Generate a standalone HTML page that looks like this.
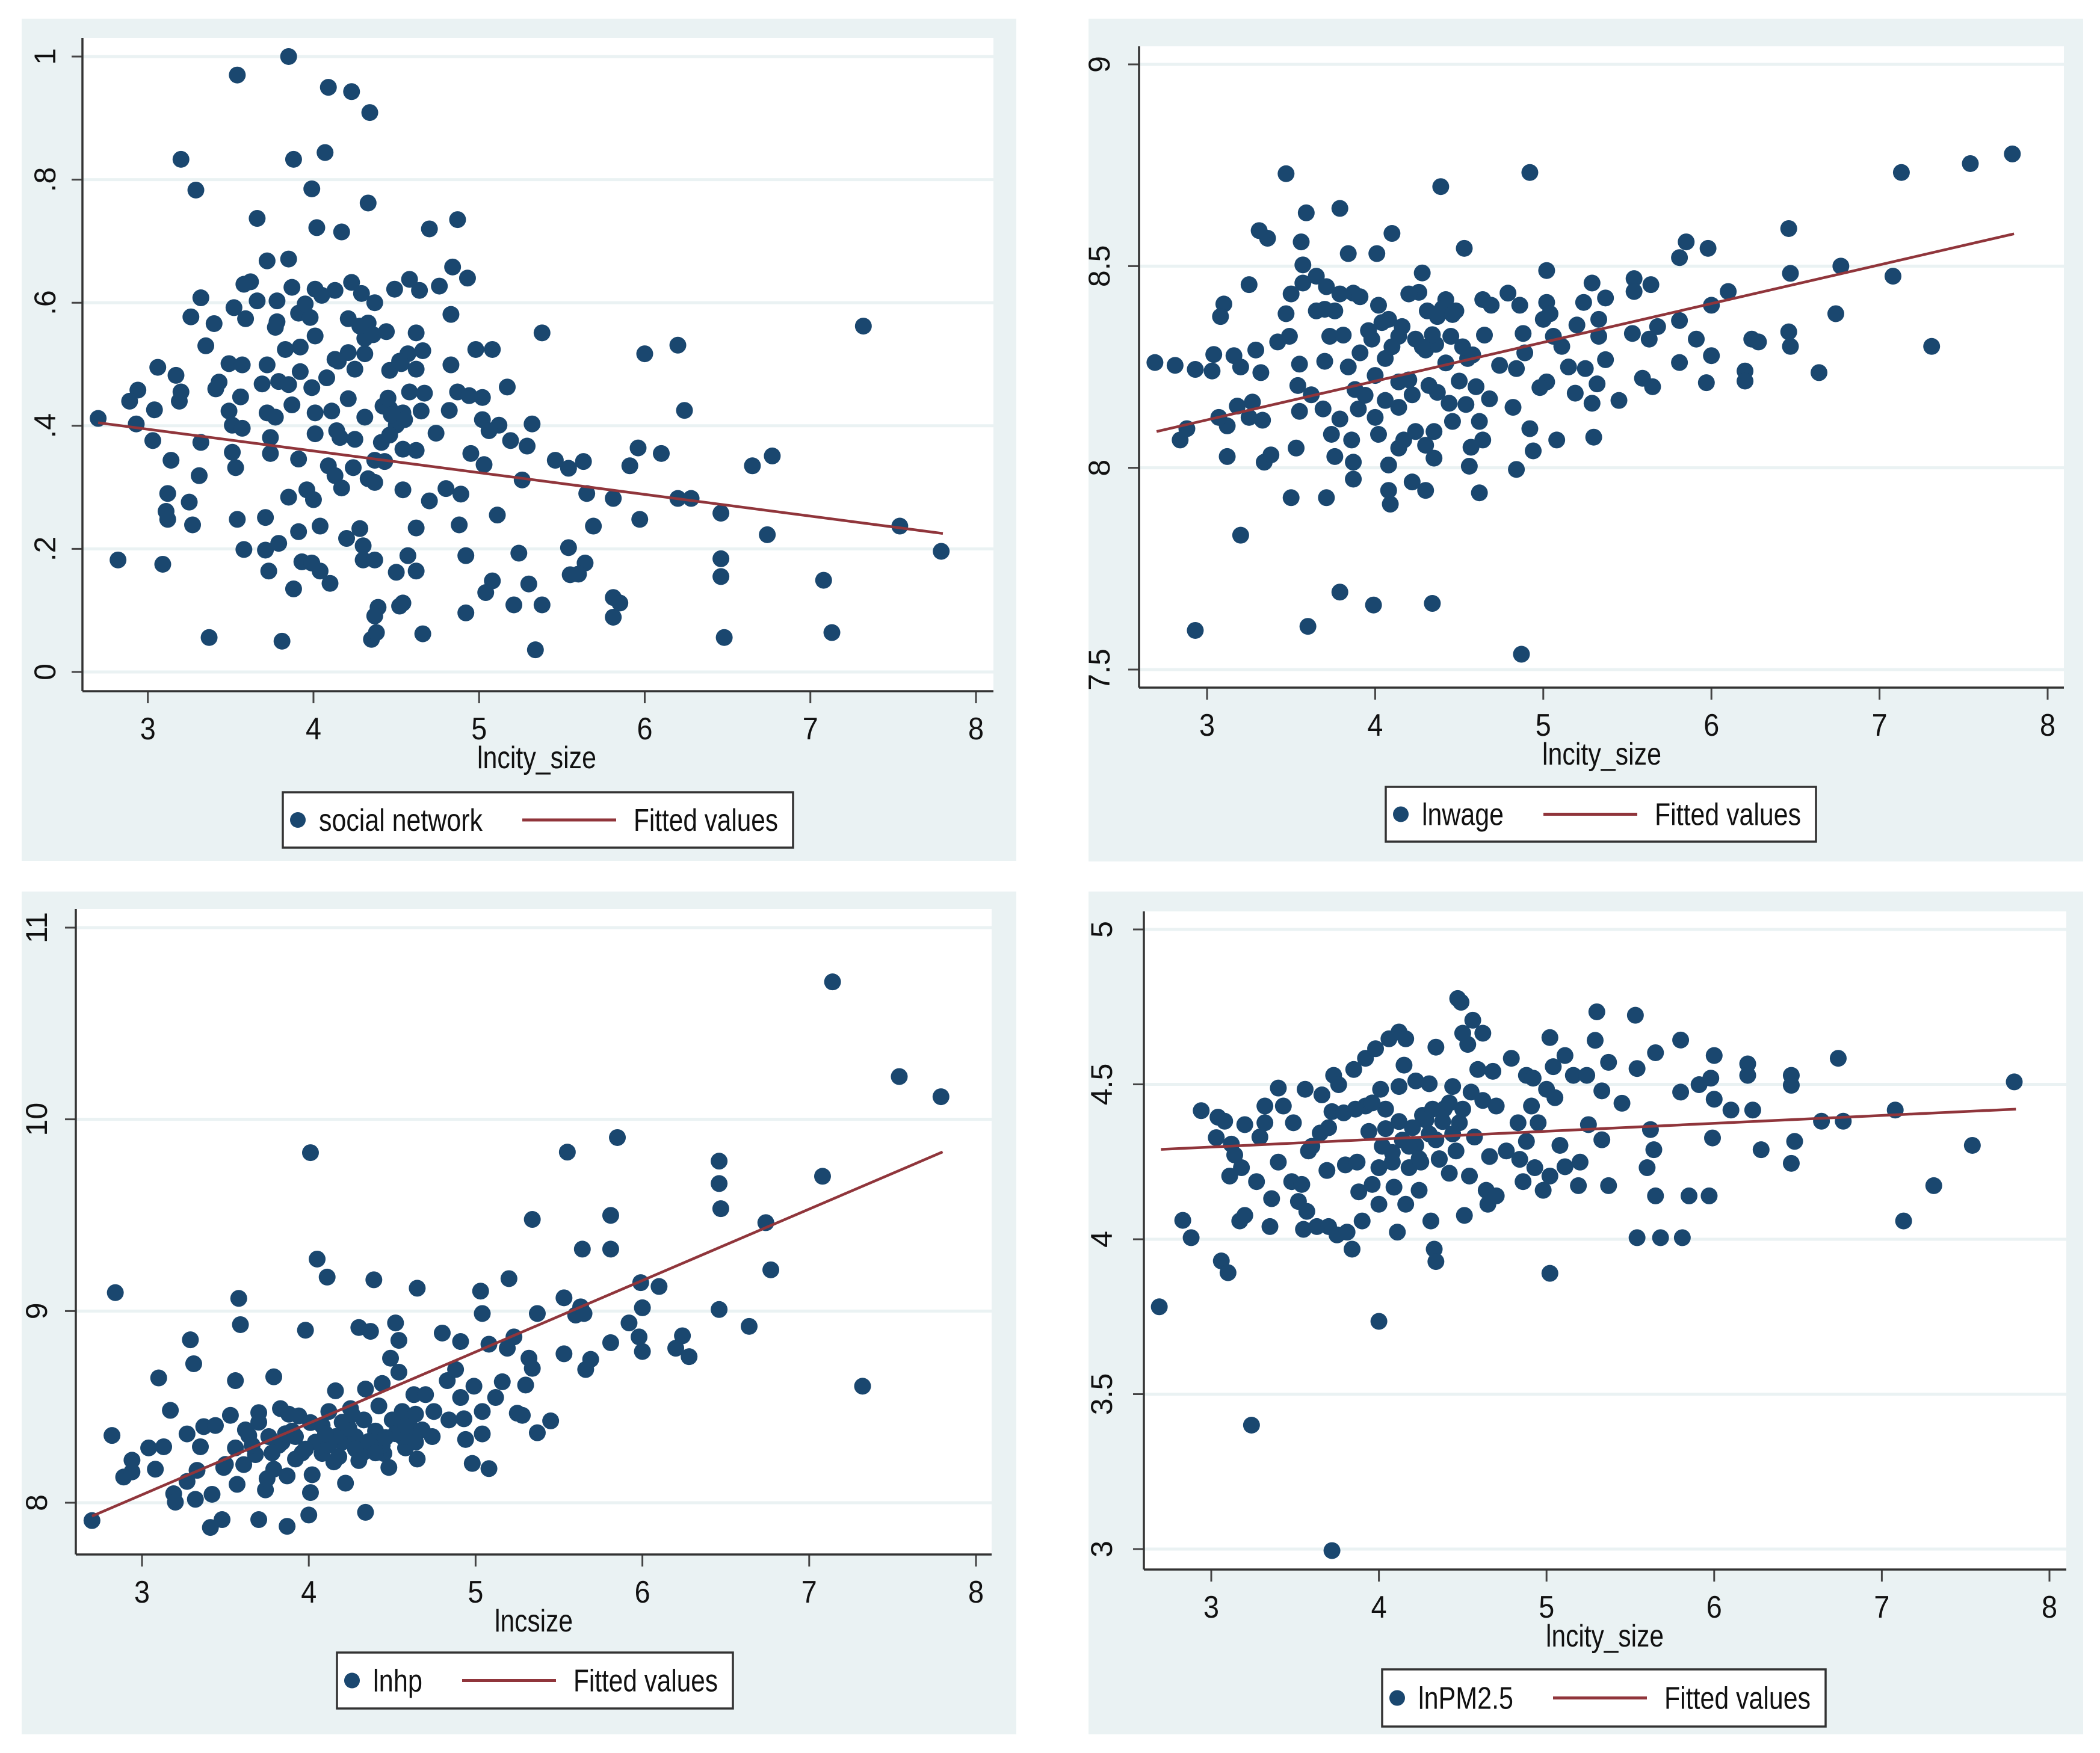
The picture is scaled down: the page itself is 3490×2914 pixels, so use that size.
<!DOCTYPE html>
<html><head><meta charset="utf-8">
<style>
html,body{margin:0;padding:0;background:#fff;}
svg{display:block;}
text{font-family:"Liberation Sans",Arial,sans-serif;fill:#111;}
</style></head>
<body>
<svg id="root" xmlns="http://www.w3.org/2000/svg" width="3490" height="2914" viewBox="0 0 3490 2914"></svg>
<script>
// ===== Panel 1: social network vs lncity_size =====
const p1x = [2.70,3.85,3.54,4.09,4.23,4.34,3.20,3.88,4.07,3.29,3.99,4.33,3.66,4.87,4.02,4.17,4.70,3.72,3.85,4.84,4.93,4.58,3.62,3.58,3.32,4.23,4.49,4.64,4.76,3.87,4.01,4.13,4.29,4.37,3.78,3.66,3.52,3.26,3.40,3.59,3.78,3.91,3.98,4.21,4.33,4.83,5.38,4.44,4.62,4.01,4.31,3.77,3.35,3.83,3.92,4.21,4.31,4.13,4.57,4.66,4.98,5.08,6.00,6.20,7.32,3.06,3.17,3.49,3.57,3.72,3.92,4.25,4.46,4.53,4.62,4.83,2.94,2.89,3.20,3.19,3.43,3.41,3.69,3.79,3.85,3.99,4.08,4.58,4.67,4.87,4.94,5.02,5.17,3.56,3.87,4.21,3.04,2.93,3.49,3.51,3.57,3.72,3.77,4.01,4.11,4.31,4.46,4.54,4.65,4.82,5.02,5.12,5.32,6.24,4.50,4.01,4.14,5.06,4.74,3.03,3.32,3.74,4.16,4.25,4.41,4.46,5.19,5.29,3.74,3.14,3.51,3.91,4.37,4.43,4.54,4.62,4.95,5.46,5.63,5.96,6.10,6.77,3.53,4.09,4.24,5.03,5.54,5.91,6.65,3.31,4.13,4.33,4.37,5.26,4.17,4.54,4.80,3.96,4.89,5.65,3.12,3.25,3.85,4.00,4.70,5.81,6.20,6.28,3.11,3.12,3.54,3.71,5.11,6.46,3.27,4.04,4.28,4.62,4.88,5.69,5.97,7.54,3.91,6.74,4.20,3.58,3.71,3.79,4.30,5.54,7.79,4.57,4.92,5.24,6.46,2.82,3.93,3.99,4.30,4.37,5.64,3.09,3.73,4.04,4.50,4.62,5.55,5.60,6.46,7.08,4.10,5.08,5.30,3.88,5.04,5.81,5.85,5.21,5.38,4.54,4.52,4.39,4.37,4.92,5.81,4.66,7.13,6.48,3.37,3.81,4.35,4.38,5.34,4.42,4.47,4.28,4.36,4.52,3.95,4.05,4.15,4.45,4.55];
const p1y = [0.412,1.0,0.97,0.95,0.943,0.909,0.833,0.833,0.844,0.783,0.785,0.762,0.737,0.735,0.722,0.715,0.720,0.668,0.671,0.658,0.640,0.638,0.634,0.63,0.608,0.633,0.622,0.620,0.627,0.625,0.622,0.620,0.615,0.60,0.603,0.603,0.592,0.577,0.566,0.574,0.569,0.583,0.576,0.574,0.567,0.581,0.551,0.553,0.551,0.546,0.542,0.560,0.530,0.524,0.528,0.519,0.517,0.508,0.517,0.522,0.524,0.524,0.517,0.531,0.562,0.495,0.482,0.501,0.499,0.499,0.488,0.492,0.490,0.501,0.492,0.499,0.458,0.440,0.455,0.440,0.471,0.460,0.468,0.472,0.467,0.462,0.478,0.455,0.453,0.455,0.449,0.446,0.463,0.447,0.434,0.444,0.426,0.403,0.424,0.401,0.396,0.421,0.414,0.421,0.424,0.414,0.428,0.421,0.424,0.425,0.410,0.401,0.403,0.425,0.401,0.387,0.392,0.392,0.388,0.376,0.373,0.381,0.381,0.378,0.373,0.385,0.376,0.367,0.355,0.344,0.357,0.346,0.344,0.342,0.362,0.360,0.355,0.344,0.342,0.364,0.355,0.351,0.332,0.335,0.332,0.337,0.331,0.335,0.335,0.319,0.319,0.314,0.308,0.312,0.299,0.296,0.298,0.296,0.289,0.290,0.290,0.276,0.284,0.280,0.278,0.282,0.282,0.282,0.261,0.248,0.248,0.251,0.255,0.258,0.239,0.237,0.233,0.234,0.239,0.237,0.248,0.237,0.228,0.223,0.217,0.199,0.198,0.209,0.205,0.202,0.196,0.189,0.189,0.193,0.184,0.182,0.179,0.177,0.182,0.182,0.177,0.175,0.164,0.164,0.162,0.164,0.158,0.159,0.155,0.149,0.144,0.148,0.143,0.135,0.129,0.121,0.112,0.109,0.109,0.112,0.107,0.105,0.091,0.096,0.089,0.062,0.064,0.056,0.056,0.050,0.053,0.064,0.036,0.432,0.418,0.562,0.548,0.505,0.598,0.612,0.505,0.445,0.410];
const p1fit = [[2.7,0.405],[7.8,0.225]];
const p1xticks = [3,4,5,6,7,8];
const p1yticks = [0,0.2,0.4,0.6,0.8,1];
const p1ylabels = ["0",".2",".4",".6",".8","1"];

// ===== Panel 2: lnwage =====
const p2x = [2.69,2.81,2.93,3.03,3.04,3.10,3.08,3.16,3.20,3.25,3.29,3.31,3.36,3.47,3.59,3.56,3.57,3.79,3.84,4.01,4.10,4.39,4.53,4.28,4.92,5.02,5.29,5.54,5.64,5.81,5.85,5.98,6.10,6.00,6.46,6.47,6.77,7.08,7.13,7.54,7.79,6.74,7.31,6.64,6.46,6.47,6.24,6.28,6.20,6.20,5.97,6.00,5.91,5.81,5.81,5.68,5.63,5.53,5.54,5.59,5.65,5.45,5.37,5.33,5.33,5.37,5.32,5.29,5.30,5.25,5.20,5.24,5.15,5.19,5.11,5.06,5.02,5.04,5.00,5.02,4.98,5.08,4.94,4.92,4.88,4.89,4.84,4.86,4.79,4.84,4.82,4.69,4.64,4.65,4.74,4.68,4.62,4.64,4.57,4.56,4.62,4.54,4.60,4.50,4.55,4.45,4.48,4.42,4.37,4.31,4.26,4.20,4.36,4.24,4.30,4.42,4.37,4.32,4.44,4.46,4.35,4.30,4.35,4.30,4.22,4.24,4.17,4.14,4.08,4.08,4.09,4.22,4.20,4.14,4.06,4.00,4.06,4.00,4.02,4.14,4.14,4.08,4.02,3.96,3.98,3.91,3.84,3.88,3.90,3.86,3.87,3.87,3.79,3.74,3.76,3.69,3.62,3.55,3.55,3.54,3.70,3.73,3.81,3.76,3.70,3.65,3.71,3.79,3.87,3.91,3.65,3.57,3.50,3.47,3.49,3.42,3.53,3.50,3.71,3.34,3.38,3.20,3.12,3.12,3.07,3.18,3.25,3.27,3.33,3.32,2.84,2.88,2.93,3.60,3.79,3.99,4.34,4.87,4.40,4.46,4.52,4.58,4.34,4.28,4.16,4.10,4.04,3.94];
const p2y = [8.261,8.254,8.244,8.240,8.281,8.406,8.375,8.278,8.250,8.454,8.292,8.588,8.569,8.729,8.632,8.560,8.503,8.643,8.531,8.531,8.581,8.697,8.544,8.483,8.732,8.489,8.458,8.469,8.454,8.521,8.560,8.544,8.437,8.403,8.593,8.482,8.500,8.475,8.732,8.754,8.778,8.382,8.301,8.236,8.337,8.301,8.319,8.312,8.240,8.215,8.211,8.278,8.319,8.365,8.261,8.350,8.319,8.333,8.437,8.222,8.201,8.167,8.421,8.368,8.326,8.268,8.208,8.160,8.076,8.246,8.354,8.410,8.250,8.185,8.301,8.326,8.410,8.382,8.368,8.213,8.199,8.069,8.042,8.097,8.333,8.285,8.246,8.403,8.433,7.996,8.150,8.403,8.417,8.329,8.254,8.171,8.115,8.069,8.051,8.004,7.938,8.157,8.201,8.215,8.271,8.326,8.389,8.417,8.375,8.389,8.435,8.431,8.306,8.319,8.292,8.260,8.187,8.204,8.160,8.115,8.090,8.056,8.024,7.944,7.965,8.090,8.069,8.049,8.007,7.944,7.910,8.181,8.218,8.213,8.271,8.229,8.167,8.125,8.083,8.150,8.326,8.368,8.403,8.340,8.319,8.285,8.250,8.194,8.146,8.069,8.014,7.972,8.121,8.083,8.028,8.146,8.181,8.140,8.257,8.204,8.264,8.326,8.329,8.389,8.393,8.389,8.449,8.431,8.433,8.424,8.475,8.458,8.431,8.382,8.326,8.312,8.049,7.926,7.926,8.014,8.032,7.833,8.028,8.104,8.125,8.153,8.125,8.163,8.118,8.236,8.069,8.097,7.597,7.607,7.692,7.660,7.664,7.538,8.395,8.380,8.300,8.280,8.330,8.300,8.350,8.300,8.360,8.180];
const p2fit = [[2.7,8.09],[7.8,8.58]];
const p2xticks = [3,4,5,6,7,8];
const p2yticks = [7.5,8,8.5,9];
const p2ylabels = ["7.5","8","8.5","9"];

// ===== Panel 3: lnhp vs lncsize =====
const p3x = [2.70,2.82,2.84,2.89,2.94,2.94,3.04,3.08,3.13,3.10,3.17,3.19,3.20,3.27,3.27,3.29,3.31,3.32,3.35,3.37,3.33,3.41,3.42,3.48,3.44,3.49,3.53,3.56,3.58,3.59,3.57,3.61,3.64,3.68,3.70,3.70,3.74,3.75,3.79,3.79,3.83,3.84,3.87,3.87,3.90,3.94,3.92,3.98,4.00,4.01,4.01,4.02,4.01,4.05,4.08,4.11,4.12,4.16,4.15,4.20,4.22,4.25,4.28,4.30,4.34,4.37,4.34,4.33,4.36,4.39,4.42,4.44,4.45,4.48,4.49,4.52,4.54,4.54,4.56,4.58,4.61,4.63,4.65,4.65,4.70,4.74,4.75,4.80,4.83,4.84,4.88,4.91,4.91,4.94,4.93,4.98,4.99,5.03,5.04,5.04,5.04,5.08,5.08,5.12,5.16,5.19,5.20,5.23,5.25,5.28,5.30,5.32,5.34,5.34,5.37,5.37,5.45,5.53,5.53,5.55,5.60,5.63,5.64,5.66,5.69,5.65,5.81,5.81,5.81,5.85,5.92,5.98,5.99,6.00,6.00,6.10,6.20,6.24,6.28,6.46,6.46,6.47,6.46,6.64,6.74,6.77,7.08,7.14,7.32,7.54,7.79,3.92,4.04,4.16,4.24,4.40,4.56,4.64,4.50,4.32,4.08,3.88,3.76,3.56,4.64,3.62,3.70,3.82,3.96,4.12,4.20,4.28,4.36,4.44,4.52,4.60,4.68,3.50,3.78,3.98,4.10,4.26,4.46,4.58,4.30,4.18,3.86,3.66,4.40];
const p3y = [7.907,8.351,9.096,8.134,8.161,8.222,8.286,8.175,8.292,8.651,8.482,8.047,8.003,8.111,8.359,8.850,8.725,8.018,8.292,8.397,8.169,7.871,8.044,7.912,8.403,8.184,8.456,8.637,9.066,8.929,8.096,8.199,8.351,8.251,8.470,7.912,8.067,8.126,8.657,8.175,8.491,8.316,7.877,8.140,8.374,8.453,8.228,8.900,7.936,9.826,8.053,8.146,8.418,9.271,8.257,9.177,8.476,8.584,8.213,8.316,8.102,8.491,8.345,8.914,7.950,8.894,8.593,8.432,8.286,9.163,8.505,8.622,8.257,8.184,8.754,8.938,8.847,8.681,8.476,8.286,8.389,8.564,9.119,8.228,8.564,8.345,8.476,8.885,8.637,8.432,8.695,8.841,8.549,8.330,8.438,8.205,8.608,9.104,8.476,8.359,8.987,8.178,8.827,8.549,8.631,8.806,9.169,8.865,8.467,8.456,8.614,8.754,8.701,9.478,8.365,8.987,8.427,9.069,8.777,9.829,8.979,9.022,9.323,8.695,8.748,8.987,9.499,9.323,8.835,9.905,8.938,8.865,9.148,9.017,8.789,9.128,8.806,8.871,8.762,9.782,9.665,9.534,9.008,8.920,9.461,9.215,9.703,10.717,8.608,10.223,10.118,8.345,8.316,8.345,8.389,8.374,8.345,8.462,8.432,8.257,8.403,8.462,8.345,8.286,8.316,8.380,8.420,8.300,8.260,8.300,8.420,8.280,8.320,8.300,8.360,8.420,8.380,8.200,8.260,8.280,8.360,8.460,8.340,8.400,8.220,8.240,8.360,8.300,8.260];
const p3fit = [[2.7,7.93],[7.8,9.83]];
const p3xticks = [3,4,5,6,7,8];
const p3yticks = [8,9,10,11];
const p3ylabels = ["8","9","10","11"];

// ===== Panel 4: lnPM2.5 =====
const p4x = [2.69,2.83,2.88,2.94,3.03,3.04,3.08,3.06,3.10,3.11,3.12,3.14,3.18,3.17,3.20,3.20,3.24,3.27,3.29,3.32,3.32,3.35,3.36,3.40,3.40,3.43,3.48,3.49,3.52,3.54,3.55,3.56,3.58,3.57,3.63,3.66,3.65,3.69,3.70,3.72,3.72,3.73,3.76,3.75,3.79,3.80,3.81,3.84,3.85,3.87,3.88,3.90,3.92,3.92,3.94,3.96,3.98,4.00,4.00,4.01,4.00,4.04,4.06,4.08,4.09,4.11,4.12,4.12,4.16,4.16,4.15,4.18,4.22,4.22,4.24,4.25,4.28,4.30,4.31,4.33,4.34,4.34,4.34,4.36,4.39,4.42,4.44,4.46,4.47,4.49,4.48,4.50,4.51,4.53,4.54,4.55,4.56,4.57,4.59,4.62,4.62,4.64,4.65,4.66,4.68,4.70,4.70,4.76,4.79,4.83,4.84,4.86,4.88,4.88,4.91,4.93,4.92,4.95,4.98,5.00,5.02,5.02,5.02,5.04,5.05,5.08,5.11,5.11,5.16,5.19,5.20,5.24,5.25,5.29,5.30,5.33,5.33,5.37,5.37,5.45,5.53,5.54,5.54,5.60,5.62,5.64,5.65,5.65,5.68,5.80,5.80,5.81,5.85,5.91,5.97,5.98,5.99,6.00,6.00,6.10,6.20,6.20,6.23,6.28,6.46,6.46,6.46,6.48,6.64,6.74,6.77,7.08,7.13,7.31,7.54,7.79,4.02,4.08,4.14,4.20,4.26,4.32,4.38,4.44,4.04,4.12,4.24,4.36,4.42,4.30,4.18,3.96,3.86,3.70,3.60,4.50];
const p4y = [3.782,4.061,4.005,4.415,4.328,4.394,4.381,3.930,3.892,4.204,4.307,4.272,4.231,4.059,4.077,4.370,3.400,4.186,4.330,4.430,4.376,4.041,4.131,4.488,4.249,4.430,4.186,4.376,4.122,4.177,4.032,4.484,4.285,4.090,4.041,4.466,4.343,4.222,4.041,2.995,4.412,4.529,4.499,4.014,4.408,4.240,4.023,3.968,4.548,4.249,4.153,4.059,4.584,4.430,4.348,4.177,4.615,3.735,4.113,4.484,4.231,4.357,4.647,4.249,4.168,4.023,4.669,4.493,4.113,4.647,4.562,4.231,4.511,4.303,4.158,4.249,4.385,4.502,4.059,3.968,3.928,4.620,4.321,4.258,4.421,4.213,4.493,4.285,4.777,4.765,4.376,4.665,4.077,4.629,4.204,4.475,4.707,4.330,4.548,4.665,4.448,4.158,4.113,4.267,4.542,4.430,4.140,4.285,4.584,4.376,4.258,4.186,4.529,4.316,4.430,4.231,4.520,4.376,4.158,4.484,4.204,3.890,4.651,4.557,4.457,4.303,4.593,4.234,4.529,4.173,4.249,4.529,4.370,4.642,4.734,4.479,4.321,4.571,4.173,4.439,4.723,4.551,4.005,4.231,4.354,4.289,4.602,4.140,4.005,4.643,4.475,4.005,4.140,4.499,4.140,4.520,4.327,4.593,4.452,4.417,4.566,4.529,4.417,4.289,4.497,4.529,4.245,4.316,4.381,4.584,4.381,4.417,4.059,4.173,4.303,4.508,4.300,4.280,4.320,4.360,4.400,4.420,4.380,4.340,4.420,4.380,4.260,4.260,4.440,4.340,4.300,4.440,4.420,4.360,4.300,4.420];
const p4fit = [[2.7,4.29],[7.8,4.42]];
const p4xticks = [3,4,5,6,7,8];
const p4yticks = [3,3.5,4,4.5,5];
const p4ylabels = ["3","3.5","4","4.5","5"];

const NS = "http://www.w3.org/2000/svg";
const root = document.getElementById('root');
function mk(tag, attrs, parent){
  const e = document.createElementNS(NS, tag);
  for (const k in attrs) e.setAttribute(k, attrs[k]);
  (parent||root).appendChild(e);
  return e;
}

function drawPanel(cfg){
  const g = mk('g', {});
  
  
  const bg = mk('rect', {x:cfg.bg[0], y:cfg.bg[1], width:cfg.bg[2]-cfg.bg[0], height:cfg.bg[3]-cfg.bg[1], fill:'#eaf2f3'}, g);
  
  
  const L = cfg.plot[0], T = cfg.plot[1], R = cfg.plot[2], B = cfg.plot[3];
  const pr = mk('rect', {x:L, y:T, width:R-L, height:B-T, fill:'#ffffff'}, g);
  
  
  const sx = v => cfg.x0px + (v - cfg.x0) * (cfg.x1px - cfg.x0px) / (cfg.x1 - cfg.x0);
  const sy = v => cfg.y0px + (v - cfg.y0) * (cfg.y1px - cfg.y0px) / (cfg.y1 - cfg.y0);
  cfg.yticks.forEach((t, i) => {
    const y = sy(t);
    const gl = mk('line', {x1:L, x2:R, y1:y, y2:y, stroke:'#eaf2f3', 'stroke-width':5}, g);
    
    
    const tk = mk('line', {x1:L-18, x2:L, y1:y, y2:y, stroke:'#444', 'stroke-width':3}, g);
    
    
    const tx = mk('text', {x:0, y:0, 'font-size':50, 'text-anchor':'middle', transform:'translate('+cfg.ylabX+','+y+') rotate(-90)'}, g);
    tx.textContent = cfg.ylabels[i];
    
    
  });
  cfg.xticks.forEach(t => {
    const x = sx(t);
    const tk = mk('line', {x1:x, x2:x, y1:B, y2:B+20, stroke:'#444', 'stroke-width':3}, g);
    
    
    const tx = mk('text', {x:x, y:B+80, 'font-size':52, 'text-anchor':'middle', textLength:26, lengthAdjust:'spacingAndGlyphs'}, g);
    tx.textContent = String(t);
    
    
  });
  const ya = mk('line', {x1:L, x2:L, y1:T, y2:B, stroke:'#333', 'stroke-width':3.5}, g);
  
  
  const xa = mk('line', {x1:L, x2:R, y1:B, y2:B, stroke:'#333', 'stroke-width':3.5}, g);
  
  
  for (let i = 0; i < cfg.xs.length; i++){
    const c = mk('circle', {cx:sx(cfg.xs[i]), cy:sy(cfg.ys[i]), r:14, fill:'#1a476f'}, g);
    
    
  }
  const fl = mk('line', {x1:sx(cfg.fit[0][0]), y1:sy(cfg.fit[0][1]), x2:sx(cfg.fit[1][0]), y2:sy(cfg.fit[1][1]), stroke:'#90353b', 'stroke-width':4.5}, g);
  
  
  const xt = mk('text', {x:cfg.titleX, y:B+128, 'font-size':52, 'text-anchor':'middle', textLength:cfg.titleW, lengthAdjust:'spacingAndGlyphs'}, g);
  xt.textContent = cfg.xtitle;
  
  
  const lg = mk('g', {}, g);
  
  
  const bx = cfg.leg[0], by = cfg.leg[1], bh = cfg.leg[2];
  const labEnd = bx + 60 + cfg.labW;
  const lineS = labEnd + 66, lineE = lineS + 156;
  const fitS = lineE + 29, fitE = fitS + cfg.fitW;
  const boxE = fitE + 25;
  const lr = mk('rect', {x:bx, y:by, width:boxE-bx, height:bh, fill:'#fff', stroke:'#333', 'stroke-width':3.5}, lg);
  
  
  const cy = by + bh/2;
  const lm = mk('circle', {cx:bx+25, cy:cy, r:13, fill:'#1a476f'}, lg);
  
  
  const lt = mk('text', {x:bx+60, y:cy+18, 'font-size':52, textLength:cfg.labW, lengthAdjust:'spacingAndGlyphs'}, lg);
  lt.textContent = cfg.label;
  
  
  const ll = mk('line', {x1:lineS, x2:lineE, y1:cy, y2:cy, stroke:'#90353b', 'stroke-width':5}, lg);
  
  
  const ft = mk('text', {x:fitS, y:cy+18, 'font-size':52, textLength:cfg.fitW, lengthAdjust:'spacingAndGlyphs'}, lg);
  ft.textContent = 'Fitted values';
  
  
}

drawPanel({name:'panel-social-network', bg:[36,31,1689,1431], plot:[137,63,1651,1149],
  x0:3, x1:8, x0px:245.7, x1px:1622, y0:0, y1:1, y0px:1117, y1px:94,
  xs:p1x, ys:p1y, fit:p1fit, xticks:p1xticks, yticks:p1yticks, ylabels:p1ylabels, ylabX:92,
  xtitle:'lncity_size', titleX:892, titleW:198, leg:[470,1317,92], label:'social network', labW:272, fitW:240});

drawPanel({name:'panel-lnwage', bg:[1809,31,3462,1432], plot:[1893,77,3430,1143],
  x0:3, x1:8, x0px:2006, x1px:3403, y0:7.5, y1:9, y0px:1113, y1px:107,
  xs:p2x, ys:p2y, fit:p2fit, xticks:p2xticks, yticks:p2yticks, ylabels:p2ylabels, ylabX:1844,
  xtitle:'lncity_size', titleX:2662, titleW:198, leg:[2303,1308,91], label:'lnwage', labW:136, fitW:243});

drawPanel({name:'panel-lnhp', bg:[36,1482,1689,2883], plot:[126,1511,1648,2584],
  x0:3, x1:8, x0px:236, x1px:1622, y0:8, y1:11, y0px:2498, y1px:1542,
  xs:p3x, ys:p3y, fit:p3fit, xticks:p3xticks, yticks:p3yticks, ylabels:p3ylabels, ylabX:78,
  xtitle:'lncsize', titleX:887, titleW:130, leg:[560,2747,93], label:'lnhp', labW:82, fitW:240});

drawPanel({name:'panel-lnpm25', bg:[1809,1482,3462,2883], plot:[1901,1515,3434,2609],
  x0:3, x1:8, x0px:2013, x1px:3406, y0:3, y1:5, y0px:2575, y1px:1545,
  xs:p4x, ys:p4y, fit:p4fit, xticks:p4xticks, yticks:p4yticks, ylabels:p4ylabels, ylabX:1848,
  xtitle:'lncity_size', titleX:2667, titleW:196, leg:[2297,2775,95], label:'lnPM2.5', labW:158, fitW:243});
</script>
</body></html>
